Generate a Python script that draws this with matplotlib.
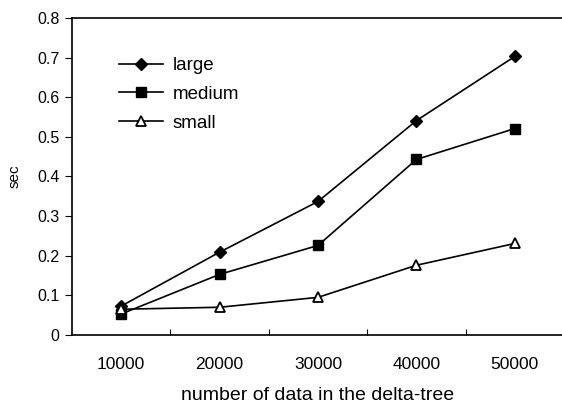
import matplotlib
matplotlib.use("Agg")
import matplotlib.pyplot as plt
from matplotlib.ticker import FixedLocator

plt.rcParams['font.family'] = ['Liberation Sans', 'DejaVu Sans']

categories = ["10000", "20000", "30000", "40000", "50000"]
large = [0.073, 0.209, 0.337, 0.541, 0.703]
medium = [0.053, 0.153, 0.226, 0.443, 0.521]
small = [0.065, 0.070, 0.095, 0.176, 0.231]
yticks = [0, 0.1, 0.2, 0.3, 0.4, 0.5, 0.6, 0.7, 0.8]
ytick_labels = ['0', '0.1', '0.2', '0.3', '0.4', '0.5', '0.6', '0.7', '0.8']

fig = plt.figure(figsize=(5.62, 4.04), dpi=100)
ax = fig.add_axes([72/562, (404-335)/404, 492/562, (335-18)/404])

x = list(range(1, len(categories) + 1))
lw = 1.2
ax.plot(x, large, color='black', lw=lw, marker='D', ms=6.5, mfc='black', mec='black', label='large')
ax.plot(x, medium, color='black', lw=lw, marker='s', ms=7.5, mfc='black', mec='black', label='medium')
ax.plot(x, small, color='black', lw=lw, marker='^', ms=7.5, mfc='white', mec='black', mew=1.3, label='small')

ax.set_xlim(0.5, 5.5)
ax.set_ylim(0, 0.8)
ax.set_yticks(yticks)
ax.set_yticklabels(ytick_labels)
ax.set_xticks(x)
ax.set_xticklabels(categories)
ax.xaxis.set_minor_locator(FixedLocator([1.5, 2.5, 3.5, 4.5]))
ax.tick_params(axis='x', which='major', length=0, pad=16, labelsize=12.5)
ax.tick_params(axis='x', which='minor', length=4, direction='in', width=0.8)
ax.tick_params(axis='y', which='major', length=5, direction='out', width=0.8, pad=4, labelsize=11.5)

ax.spines['right'].set_visible(False)
for s in ['left', 'top', 'bottom']:
    ax.spines[s].set_linewidth(1.2)

ax.set_xlabel('number of data in the delta-tree', fontsize=14, labelpad=11)
ax.set_ylabel('sec', fontsize=11, labelpad=11)

leg = ax.legend(loc='upper left', bbox_to_anchor=(119/562, 1 - 57/404), bbox_transform=fig.transFigure,
                frameon=False, fontsize=13.5, handlelength=2.35, handletextpad=0.53,
                labelspacing=0.62, borderpad=0, borderaxespad=0)

fig.savefig('out.png', dpi=100)
